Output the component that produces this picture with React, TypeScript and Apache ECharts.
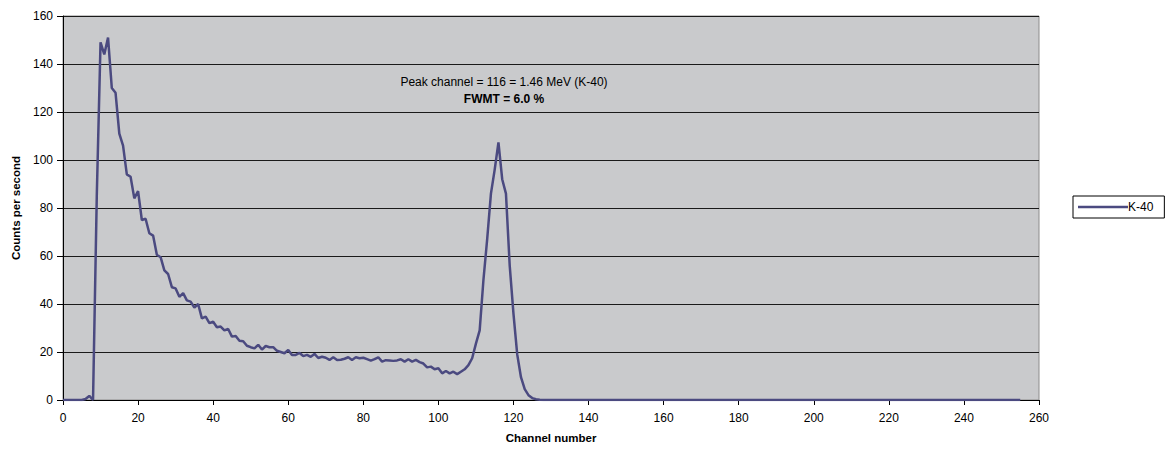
import React, { useEffect, useRef } from "react";
import * as echarts from "echarts";

// Counts per second for channels 0..255
const countsLow: number[] = [
  0, 0, 0, 0, 0, 0, 0.4, 1.7, 0, 85,
  149, 144, 151, 130, 128, 111, 106, 94, 93, 84,
  87, 75, 75.5, 69.5, 68.5, 60.5, 59.5, 54, 52.5, 47,
  46.5, 43, 44.5, 41.5, 41, 38.5, 40, 34, 34.7, 32,
  32.6, 30.3, 30.6, 29, 29.6, 26.4, 26.7, 24.7, 24.5, 22.6,
  22, 21.5, 23, 21, 22.5, 22, 22, 20.5, 20, 19.5,
];
const countsMid: number[] = [
  20.8, 18.7, 18.8, 19.6, 18.3, 18.8, 18.0, 19.2, 17.5, 18.0,
  17.6, 16.7, 17.8, 16.7, 16.8, 17.2, 17.8, 16.7, 17.8, 17.4,
  17.6, 17.0, 16.4, 17.0, 17.8, 16.0, 16.6, 16.5, 16.3, 16.5,
  17.0, 16.0, 17.0, 16.0, 16.7, 15.8, 15.2, 13.6, 13.9, 12.8,
  13.2, 11.1, 12.1, 11.1, 11.8, 10.8, 11.8, 12.8, 14.5, 17.4,
];
const countsPeak: number[] = [
  23.5, 29, 50, 67, 86, 96, 107.3, 92, 86, 56,
  36, 19, 9.5, 4.5, 2, 0.8, 0.3, 0.1,
];
// channels 128..255 are flat at zero
const countsTail: number[] = [
  0, 0, 0, 0, 0, 0, 0, 0, 0, 0, 0, 0, 0, 0, 0, 0,
  0, 0, 0, 0, 0, 0, 0, 0, 0, 0, 0, 0, 0, 0, 0, 0,
  0, 0, 0, 0, 0, 0, 0, 0, 0, 0, 0, 0, 0, 0, 0, 0,
  0, 0, 0, 0, 0, 0, 0, 0, 0, 0, 0, 0, 0, 0, 0, 0,
  0, 0, 0, 0, 0, 0, 0, 0, 0, 0, 0, 0, 0, 0, 0, 0,
  0, 0, 0, 0, 0, 0, 0, 0, 0, 0, 0, 0, 0, 0, 0, 0,
  0, 0, 0, 0, 0, 0, 0, 0, 0, 0, 0, 0, 0, 0, 0, 0,
  0, 0, 0, 0, 0, 0, 0, 0, 0, 0, 0, 0, 0, 0, 0, 0,
];

const seriesName = "K-40";
const annotationLine1 = "Peak channel = 116 = 1.46 MeV (K-40)";
const annotationLine2 = "FWMT = 6.0 %";
const xAxisTitle = "Channel number";
const yAxisTitle = "Counts per second";

const counts = [...countsLow, ...countsMid, ...countsPeak, ...countsTail];
const seriesData = counts.map((v, i) => [i, v]);

const FONT = "Liberation Sans, Arial, sans-serif";
const LINE_COLOR = "#4b4a80";

export default function App() {
  const ref = useRef<HTMLDivElement>(null);
  useEffect(() => {
    if (!ref.current) return;
    const chart = echarts.init(ref.current, undefined, { renderer: "svg" });
    chart.setOption({
      animation: false,
      backgroundColor: "#ffffff",
      textStyle: { fontFamily: FONT },
      grid: {
        left: 63,
        top: 16,
        right: 132,
        bottom: 51,
        containLabel: false,
        outerBoundsMode: "none",
        show: true,
        backgroundColor: "#c9cacc",
        borderColor: "#8c8c8c",
        borderWidth: 1,
      },
      legend: {
        show: true,
        left: 1073,
        top: 196,
        orient: "vertical",
        data: [{ name: seriesName, icon: "rect" }],
        borderColor: "#000000",
        borderWidth: 1,
        borderRadius: 0,
        padding: [5, 11, 5, 5],
        itemWidth: 50,
        itemHeight: 2.5,
        itemStyle: { color: LINE_COLOR },
        textStyle: { fontFamily: FONT, fontSize: 12, color: "#000", padding: [0, 0, 0, -5], lineHeight: 12 },
      },
      xAxis: {
        type: "value",
        min: 0,
        max: 260,
        interval: 20,
        name: xAxisTitle,
        nameLocation: "middle",
        nameGap: 32,
        nameTextStyle: { fontFamily: FONT, fontSize: 11.5, fontWeight: "bold", color: "#000" },
        axisLine: { show: true, onZero: false, lineStyle: { color: "#000", width: 1 } },
        axisTick: { show: true, length: 5, lineStyle: { color: "#000" } },
        axisLabel: { fontFamily: FONT, fontSize: 12, color: "#000", margin: 12 },
        splitLine: { show: false },
      },
      yAxis: {
        type: "value",
        min: 0,
        max: 160,
        interval: 20,
        name: yAxisTitle,
        nameLocation: "middle",
        nameGap: 40,
        nameRotate: 90,
        nameTextStyle: { fontFamily: FONT, fontSize: 11.5, fontWeight: "bold", color: "#000" },
        axisLine: { show: true, lineStyle: { color: "#000", width: 1 } },
        axisTick: { show: true, length: 6, lineStyle: { color: "#000" } },
        axisLabel: { fontFamily: FONT, fontSize: 12, color: "#000", margin: 10 },
        splitLine: { show: true, lineStyle: { color: "#1a1a1a", width: 1 } },
      },
      graphic: [
        {
          type: "text",
          x: 504,
          y: 82,
          style: {
            text: annotationLine1,
            fontFamily: FONT,
            fontSize: 12,
            fill: "#000",
            textAlign: "center",
            textVerticalAlign: "middle",
          },
        },
        {
          type: "text",
          x: 504,
          y: 99,
          style: {
            text: annotationLine2,
            fontFamily: FONT,
            fontSize: 12,
            fontWeight: "bold",
            fill: "#000",
            textAlign: "center",
            textVerticalAlign: "middle",
          },
        },
      ],
      series: [
        {
          name: seriesName,
          type: "line",
          data: seriesData,
          symbol: "none",
          showSymbol: false,
          smooth: false,
          lineStyle: { color: LINE_COLOR, width: 2.5 },
          itemStyle: { color: LINE_COLOR },
        },
      ],
    });
    return () => chart.dispose();
  }, []);
  return (
    <div
      ref={ref}
      style={{ position: "fixed", left: 0, top: 0, width: 1171, height: 451 }}
    />
  );
}
